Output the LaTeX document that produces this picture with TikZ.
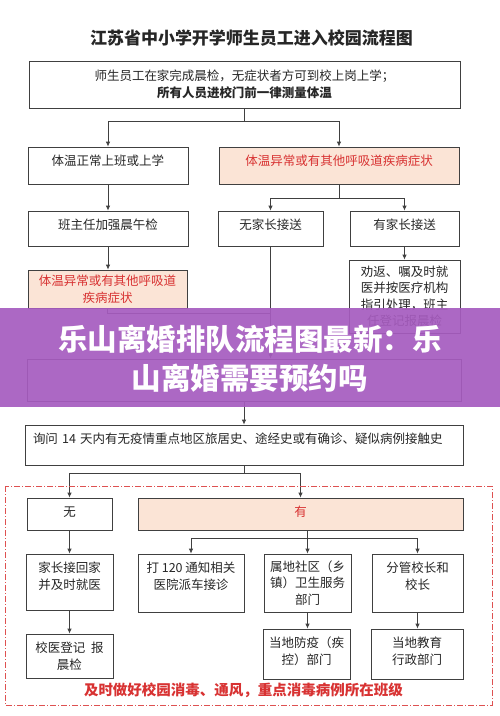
\documentclass[tikz,border=0pt]{standalone}
\usepackage{fontspec}
\setmainfont{Noto Sans CJK SC}
\usetikzlibrary{arrows.meta}

\definecolor{linegray}{HTML}{404040}
\definecolor{peach}{HTML}{FBE4D6}
\definecolor{alertred}{HTML}{D83232}
\definecolor{bannerpurple}{HTML}{A65CBF}

\begin{document}
\begin{tikzpicture}[x=1pt, y=-1pt,
  box/.style={draw=linegray, line width=0.8pt, inner sep=3pt, align=center,
    font=\fontsize{12.5}{16.5}\selectfont, text=black!85},
  warn/.style={box, fill=peach, text=alertred},
  lift/.style={text depth=#1},
  arr/.style={draw=linegray, line width=0.8pt, -{Latex[length=5pt,width=4.5pt]}},
  link/.style={draw=linegray, line width=0.8pt}]
\useasboundingbox (0,0) rectangle (500,716);
\fill[white] (0,0) rectangle (500,716);

% title
\node[font=\bfseries\fontsize{17}{20}\selectfont, text=black!85] (title) at (251.5,38) {江苏省中小学开学师生员工进入校园流程图};

% morning check and temperature
\node[box, minimum width=431pt, minimum height=47pt] (start) at (244.5,84.5)
  {师生员工在家完成晨检，无症状者方可到校上岗上学；\\ \textbf{所有人员进校门前一律测量体温}};
\node[box, minimum width=160pt, minimum height=37pt, lift=11pt] (normal) at (108,165.5) {体温正常上班或上学};
\node[warn, minimum width=240pt, minimum height=37pt, lift=11pt] (abnormal) at (339,165.5) {体温异常或有其他呼吸道疾病症状};

\node[box, minimum width=160pt, minimum height=35pt, lift=9pt] (check) at (108,228.5) {班主任加强晨午检};
\node[box, minimum width=105pt, minimum height=35pt, lift=9pt] (nopar) at (270.5,228.5) {无家长接送};
\node[box, minimum width=109pt, minimum height=35pt, lift=9pt] (haspar) at (404.5,228.5) {有家长接送};

\node[warn, minimum width=159pt, minimum height=38pt] (sick) at (107.5,289) {体温异常或有其他呼吸道\\疾病症状};
\node[box, minimum width=111pt, minimum height=73pt] (advise) at (404.5,296.5)
  {劝返、嘱及时就\\医并按医疗机构\\指引处理，班主\\任登记报晨检};

\node[box, minimum width=434pt, minimum height=42pt] (isolate) at (244,380) {};
\node[box, minimum width=438pt, minimum height=40pt, text width=422pt, align=left, lift=14pt] (ask) at (244,445)
  {询问 14 天内有无疫情重点地区旅居史、途经史或有确诊、疑似病例接触史};

% contact history
\node[box, minimum width=85pt, minimum height=32pt, lift=5pt] (no) at (69.5,514) {无};
\node[warn, minimum width=325pt, minimum height=32pt, lift=5pt] (yes) at (300.5,514) {有};

\node[box, minimum width=87pt, minimum height=56pt, lift=13pt] (pickup) at (69.5,582) {家长接回家\\并及时就医};
\node[box, minimum width=106pt, minimum height=58pt, lift=15pt] (call) at (191,583) {打 120 通知相关\\医院派车接诊};
\node[box, minimum width=87pt, minimum height=58pt] (comm) at (307.5,583) {属地社区（乡\\镇）卫生服务\\部门};
\node[box, minimum width=91pt, minimum height=58pt, lift=15pt] (head) at (417.5,583) {分管校长和\\校长};

\node[box, minimum width=87pt, minimum height=44pt] (doctor) at (69.5,656) {校医登记\ \ 报\\晨检};
\node[box, minimum width=87pt, minimum height=50pt, lift=7pt] (cdc) at (306.5,654) {当地防疫（疾\\控）部门};
\node[box, minimum width=92pt, minimum height=50pt, lift=7pt] (edu) at (417,654) {当地教育\\行政部门};

% connectors
\draw[arr] (start.south) -- ++(0,13) -| (normal.north);
\draw[arr] (start.south) -- ++(0,13) -| (abnormal.north);
\draw[arr] (abnormal.south) -- ++(0,14) -| (nopar.north);
\draw[arr] (abnormal.south) -- ++(0,14) -| (haspar.north);
\foreach \a/\b in {normal/check, check/sick, haspar/advise, no/pickup, pickup/doctor, comm/cdc, head/edu}
  \draw[arr] (\a.south) -- (\a.south |- \b.north);

\coordinate (merge) at (nopar.south |- 0,313);
\draw[link] (sick.south) |- (merge);
\draw[arr] (nopar.south) -- (nopar.south |- isolate.north);
\draw[arr] (isolate.south) -- (ask.north);
\draw[arr] (ask.south) -- ++(0,8) -| (no.north);
\draw[arr] (ask.south) -- ++(0,8) -| (yes.north);

\coordinate (fork) at (yes.south -| comm.north);
\draw[arr] (fork) -- ++(0,8) -| (call.north);
\draw[arr] (fork) -- (comm.north);
\draw[arr] (fork) -- ++(0,8) -| (head.north);

% red frame
\draw[alertred!85, line width=0.8pt, dash pattern=on 6pt off 2pt on 1pt off 2pt] (5,486) rectangle (492,705);
\node[text=alertred, font=\bfseries\fontsize{14.5}{17}\selectfont] (note) at (243.5,690) {及时做好校园消毒、通风，重点消毒病例所在班级};

% banner
\fill[bannerpurple, fill opacity=0.92] (0,308) rectangle (500,407);
\node[text=white, font=\bfseries\fontsize{29.5}{39}\selectfont, align=center] (banner) at (250,359)
  {乐山离婚排队流程图最新：乐\\山离婚需要预约吗};
\end{tikzpicture}
\end{document}
